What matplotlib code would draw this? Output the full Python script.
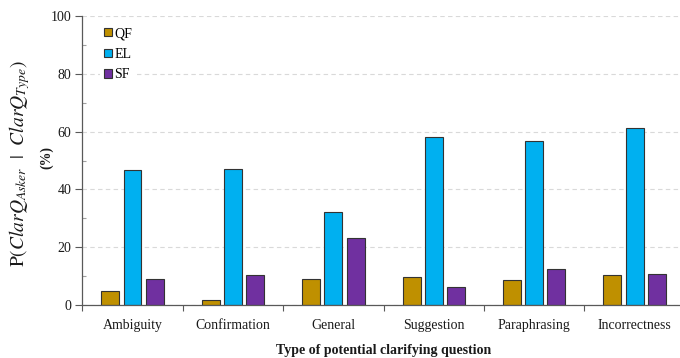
import matplotlib
matplotlib.use("Agg")
import matplotlib.pyplot as plt
import numpy as np
from matplotlib.ticker import MultipleLocator, FixedLocator, NullFormatter

categories = ["Ambiguity", "Confirmation", "General", "Suggestion", "Paraphrasing", "Incorrectness"]
series_names = ["QF", "EL", "SF"]
qf = [4.7, 1.7, 8.9, 9.7, 8.7, 10.3]
el = [46.6, 47.1, 32.3, 58.0, 56.9, 61.4]
sf = [9.1, 10.5, 23.1, 6.2, 12.6, 10.7]
colors = ["#BF9000", "#00B0F0", "#7030A0"]

plt.rcParams["font.family"] = ["Liberation Serif", "DejaVu Serif"]
plt.rcParams["mathtext.fontset"] = "stix"

fig = plt.figure(figsize=(6.8, 3.58), dpi=100)
ax = fig.add_axes([82.3 / 680, 53 / 358, 602.5 / 680, 289 / 358])

x = np.arange(len(categories)) + 0.5
width = 0.179
step = 0.221
for i, (vals, name, c) in enumerate(zip([qf, el, sf], series_names, colors)):
    ax.bar(x + (i - 1) * step, vals, width, color=c, edgecolor="#333333",
           linewidth=0.8, label=name, zorder=3)

ax.set_xlim(0, len(categories))
ax.set_ylim(0, 100)

# category separators as major ticks, labels centred on minor ticks
ax.xaxis.set_major_locator(FixedLocator(np.arange(len(categories) + 1)))
ax.xaxis.set_major_formatter(NullFormatter())
ax.xaxis.set_minor_locator(FixedLocator(x))
ax.set_xticklabels(categories, minor=True)
ax.tick_params(axis="x", which="major", direction="out", length=4, width=0.8, color="#595959")
ax.tick_params(axis="x", which="minor", length=0, pad=10, labelsize=10, labelcolor="#1a1a1a")

ax.yaxis.set_major_locator(MultipleLocator(20))
ax.yaxis.set_minor_locator(MultipleLocator(10))
ax.tick_params(axis="y", which="major", direction="out", length=5, width=0.8,
               color="#595959", labelsize=10, labelcolor="#1a1a1a", pad=3)
ax.tick_params(axis="y", which="minor", direction="in", length=3, width=0.8, color="#a0a0a0")

ax.grid(axis="y", which="major", linestyle=(0, (4, 3)), color="#d9d9d9", linewidth=0.8, zorder=0)
ax.set_axisbelow(True)

for s in ["top", "right"]:
    ax.spines[s].set_visible(False)
for s in ["left", "bottom"]:
    ax.spines[s].set_color("#595959")
    ax.spines[s].set_linewidth(0.9)
    ax.spines[s].set_zorder(4)

ax.set_xlabel("Type of potential clarifying question", fontsize=10, fontweight="bold",
              labelpad=9, color="#1a1a1a")

fig.text(20 / 680, 1 - 164 / 358, r"$\mathrm{P}(ClarQ_{Asker}\ \ |\ \ ClarQ_{Type})$",
         rotation=90, ha="center", va="center", fontsize=14, color="#1a1a1a")
fig.text(47 / 680, 1 - 158 / 358, "(%)", rotation=90, ha="center", va="center",
         fontsize=10, fontweight="bold", color="#1a1a1a")

leg = ax.legend(loc="upper left", bbox_to_anchor=(100 / 680, 1 - 23 / 358),
                bbox_transform=fig.transFigure, frameon=True, fancybox=False,
                handlelength=0.55, handleheight=0.55, handletextpad=0.2,
                labelspacing=0.55, fontsize=10, borderpad=0.3, borderaxespad=0)
leg.get_frame().set_edgecolor("none")
leg.get_frame().set_facecolor("white")
leg.get_frame().set_alpha(1)
for h in leg.legend_handles:
    h.set_edgecolor("#333333")
    h.set_linewidth(0.8)

fig.savefig("out.png", dpi=100)
